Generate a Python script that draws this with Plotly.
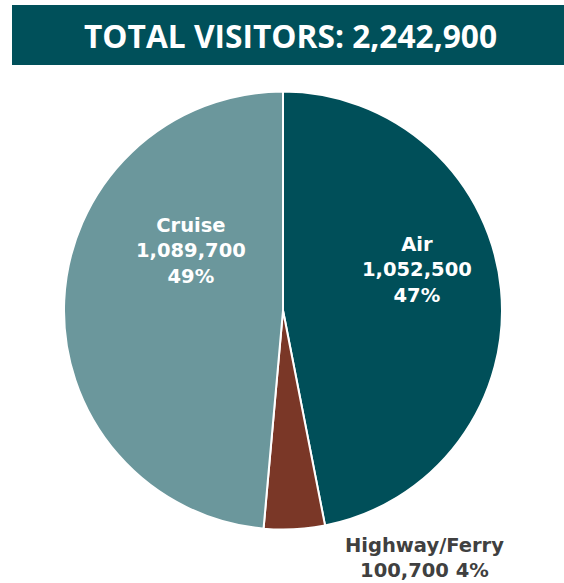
import plotly.graph_objects as go

# Visitor arrivals by mode of transport
modes = ["Air", "Highway/Ferry", "Cruise"]
visitors = [1052500, 100700, 1089700]
colors = ["#004F59", "#7A3727", "#6B979C"]

total = sum(visitors)
W, H = 564, 583

shares = [v / total for v in visitors]

fig = go.Figure(
    go.Pie(
        labels=modes,
        values=visitors,
        sort=False,
        direction="clockwise",
        rotation=0,
        marker=dict(colors=colors, line=dict(color="white", width=2)),
        textinfo="none",
        hoverinfo="label+value+percent",
        showlegend=False,
        domain=dict(x=[64 / W, 502 / W], y=[1 - 529.5 / H, 1 - 91.5 / H]),
    )
)

# Slice labels: (pixel centre of the label block, layout, colour)
label_spots = {
    "Air": ((417, 270), "stack", "white"),
    "Cruise": ((191, 251), "stack", "white"),
    "Highway/Ferry": ((424, 557.5), "pair", "#404040"),
}
for m, v, s in zip(modes, visitors, shares):
    (px, py), style, col = label_spots[m]
    pct = f"{round(s * 100)}%"
    body = f"{m}<br>{v:,}<br>{pct}" if style == "stack" else f"{m}<br>{v:,} {pct}"
    fig.add_annotation(
        x=px / W, y=1 - py / H, xref="paper", yref="paper",
        xanchor="center", yanchor="middle",
        text=f"<b>{body}</b>", showarrow=False, align="center",
        font=dict(family="DejaVu Sans", size=19.5, color=col),
    )

# Header banner with the grand total
fig.add_shape(type="rect", xref="paper", yref="paper",
              x0=12 / W, x1=1, y0=1 - 65 / H, y1=1 - 5 / H,
              fillcolor="#00505A", line=dict(width=0), layer="below")
fig.add_annotation(
    x=290.5 / W, y=1 - 35 / H, xref="paper", yref="paper",
    xanchor="center", yanchor="middle",
    text=f"<b>TOTAL VISITORS: {total:,}</b>", showarrow=False,
    font=dict(family="Open Sans", size=31.7, color="white"),
)

fig.update_layout(
    width=W, height=H,
    margin=dict(l=0, r=0, t=0, b=0),
    paper_bgcolor="white", plot_bgcolor="white",
)

fig.write_html("out.html")
